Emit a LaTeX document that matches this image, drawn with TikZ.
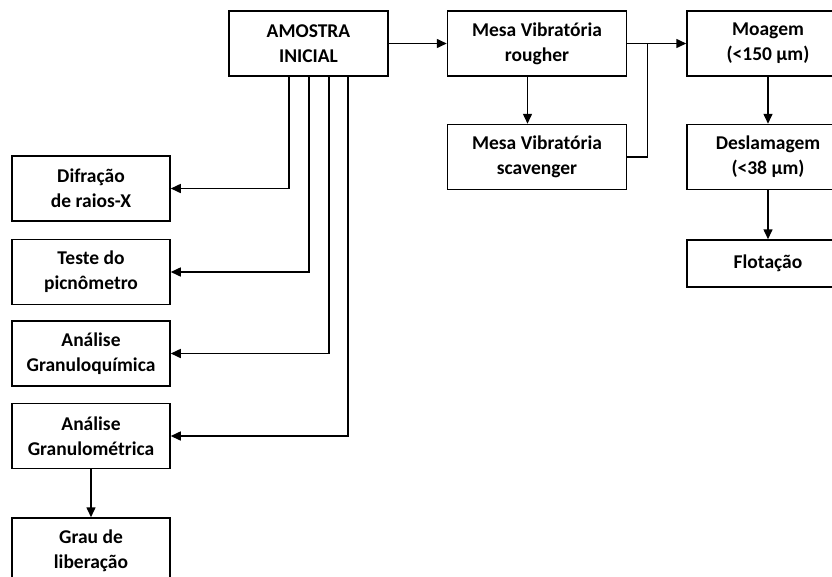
\documentclass[tikz,border=0pt]{standalone}
\usepackage{fontspec}
\setmainfont{Carlito}
\usetikzlibrary{positioning,arrows.meta,calc}

\begin{document}
\begin{tikzpicture}[x=1pt,y=-1pt,
    box/.style={draw, line width=1.5pt, align=center, inner sep=2pt,
        font=\fontsize{19.5}{25}\selectfont\bfseries, minimum height=65pt},
    flow/.style={line width=1.5pt, -{Triangle[length=10pt,width=9pt]}}]
\useasboundingbox (0,0) rectangle (832,576);
\clip (0,0) rectangle (832,576);

\node (amostra) [box, minimum width=159pt] at (308.5,43.5) {AMOSTRA\\INICIAL};
\node (rougher) [box, minimum width=179pt, right=58pt of amostra] {Mesa Vibratória\\rougher};
\node (scav) [box, minimum width=179pt, below=47pt of rougher] {Mesa Vibratória\\scavenger};
\node (moagem) [box, minimum width=162pt, right=59pt of rougher] {Moagem\\(<150 µm)};
\node (deslam) [box, minimum width=162pt, below=47pt of moagem] {Deslamagem\\(<38 µm)};
\node (flot) [box, minimum width=162pt, minimum height=47pt, below=49pt of deslam] {Flotação};

\node (difracao) [box, minimum width=158pt] at (91,188.5) {Difração\\de raios-X};
\node (picno) [box, minimum width=158pt, below=17pt of difracao] {Teste do\\picnômetro};
\node (quim) [box, minimum width=158pt, below=15pt of picno] {Análise\\Granuloquímica};
\node (metr) [box, minimum width=158pt, below=16pt of quim] {Análise\\Granulométrica};
\node (grau) [box, minimum width=158pt, below=48pt of metr] {Grau de\\liberação};

\draw[flow] (amostra) -- (rougher);
\draw[flow] ([xshift=-9.5pt]rougher.south) -- ([xshift=-9.5pt]scav.north);

\coordinate (jn) at ($ (rougher.east) + (20,0) $);
\draw[line width=1.5pt] (rougher.east) -- (jn) |- (scav.east);
\draw[flow] (jn) -- (moagem);
\draw[flow] (moagem) -- (deslam);
\draw[flow] (deslam) -- (flot);

\draw[flow] ([xshift=-19.5pt]amostra.south) |- (difracao);
\draw[flow] ([xshift=0.5pt]amostra.south) |- (picno);
\draw[flow] ([xshift=20.5pt]amostra.south) |- (quim);
\draw[flow] ([xshift=39.5pt]amostra.south) |- (metr);
\draw[flow] (metr) -- (grau);

\end{tikzpicture}
\end{document}
